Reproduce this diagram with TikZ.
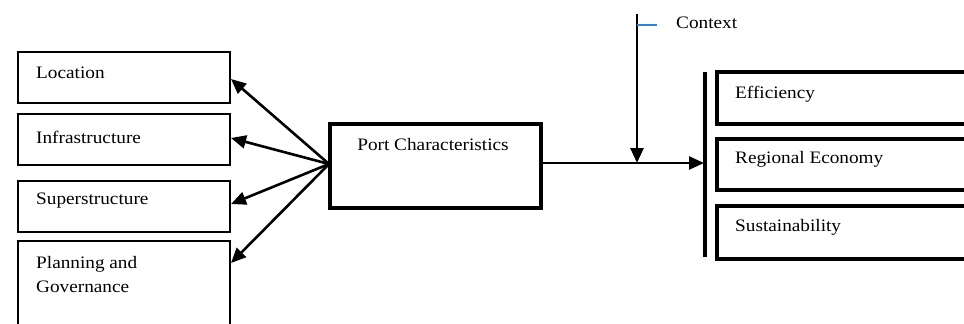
\documentclass[tikz,border=0pt]{standalone}
\usepackage{fontspec}
\setmainfont{Liberation Serif}[FakeStretch=1.1]
\usetikzlibrary{arrows.meta,calc}
\definecolor{tickblue}{RGB}{50,130,210}
\begin{document}
\begin{tikzpicture}[x=1pt,y=-1pt,
  lbox/.style={draw,line width=2pt,minimum width=212pt,anchor=north west,inner sep=0pt},
  rbox/.style={draw,line width=3.5pt,minimum width=260pt,anchor=north west,inner sep=0pt},
  txt/.style={anchor=west,inner sep=0pt,font=\fontsize{17.5}{24}\selectfont},
  arr/.style={line width=2.6pt,-{Triangle[length=15pt,width=13pt]}},
  ]
\path[use as bounding box] (0,0) rectangle (964,324);
\clip (0,0) rectangle (964,324);
% left boxes
\node[lbox,minimum height=51pt] (loc) at (17,51) {};
\node[lbox,minimum height=51pt] (inf) at (17,113) {};
\node[lbox,minimum height=51pt] (sup) at (17,180) {};
\node[lbox,minimum height=100pt] (pla) at (17,240) {};
\node[txt] (tloc) at (36,73) {Location};
\node[txt] (tinf) at (36,137) {Infrastructure};
\node[txt] (tsup) at (36,201) {Superstructure};
\node[txt,align=left,anchor=north west] (tpla) at (36,256) {Planning and\\Governance};
% port characteristics
\node[draw,line width=3.5pt,minimum width=211pt,minimum height=84pt,anchor=north west,inner sep=0pt] (pc) at (328,122) {};
\node[txt,anchor=center] (tpc) at (433,145) {Port Characteristics};
% arrows to left boxes
\coordinate (hub) at (329,164);
\draw[arr] (hub) -- (loc.east |- 0,79);
\draw[arr] (hub) -- (inf.east |- 0,138);
\draw[arr] (hub) -- (sup.east |- 0,204);
\draw[arr] (hub) -- (pla.east |- 0,263);
% right side
\coordinate (brtop) at (705,72);
\coordinate (brbot) at (705,257);
\draw[line width=3.5pt] (brtop) -- (brbot);
\coordinate (brmid) at (704,163);
\draw[arr] (pc.east |- brmid) -- (brmid);
\coordinate (ctxtop) at (637,14);
\coordinate (ctxend) at (637,163);
\draw[arr] (ctxtop) -- (ctxend);
\coordinate (tick) at (637,25);
\draw[tickblue,line width=2pt] (tick) -- ++(20,0);
\node[txt] (tctx) at (676,23) {Context};
\node[rbox,minimum height=52pt] (eff) at (715,70) {};
\node[rbox,minimum height=51pt] (reg) at (715,137) {};
\node[rbox,minimum height=53pt] (sus) at (715,204) {};
\node[txt] (teff) at (735,94) {Efficiency};
\node[txt] (treg) at (735,159) {Regional Economy};
\node[txt] (tsus) at (735,227) {Sustainability};
\end{tikzpicture}
\end{document}
